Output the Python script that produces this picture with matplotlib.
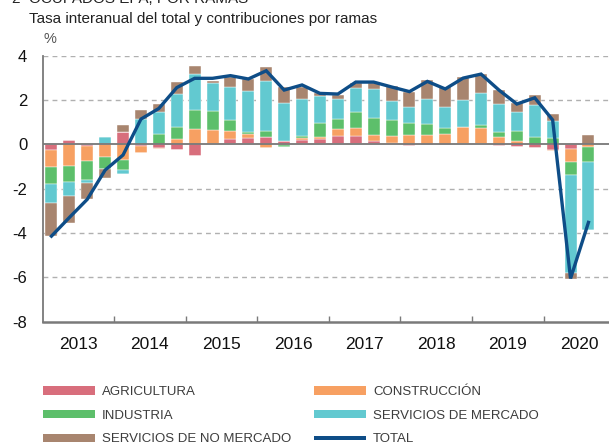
import matplotlib
matplotlib.use("Agg")
import matplotlib.pyplot as plt
import numpy as np
from matplotlib.patches import Rectangle

plt.rcParams["font.family"] = ["Liberation Sans", "DejaVu Sans"]

years = ["2013", "2014", "2015", "2016", "2017", "2018", "2019", "2020"]

agricultura = [-0.26, 0.18, -0.08, 0.0, 0.54, -0.08, -0.15, -0.27, -0.53, 0.0, 0.24, 0.29,
               0.35, 0.14, 0.20, 0.23, 0.39, 0.39, 0.17, 0.05, -0.06, -0.05, -0.03, 0.0,
               0.0, -0.06, -0.11, -0.15, -0.24, -0.23, 0.0]
construccion = [-0.77, -0.96, -0.69, -0.59, -0.71, -0.33, -0.05, 0.23, 0.70, 0.66, 0.35, 0.16,
                -0.15, -0.03, 0.10, 0.09, 0.29, 0.33, 0.27, 0.35, 0.41, 0.44, 0.45, 0.77,
                0.74, 0.33, 0.17, 0.02, -0.06, -0.57, -0.12]
industria = [-0.74, -0.74, -0.84, -0.54, -0.45, 0.0, 0.48, 0.56, 0.84, 0.84, 0.53, 0.13,
             0.24, -0.10, 0.09, 0.65, 0.48, 0.75, 0.77, 0.69, 0.54, 0.47, 0.29, 0.03,
             0.15, 0.21, 0.45, 0.30, 0.30, -0.60, -0.68]
serv_mercado = [-0.86, -0.62, -0.15, 0.35, -0.18, 1.14, 0.99, 1.46, 1.65, 1.26, 1.46, 1.82,
                2.27, 1.71, 1.64, 1.19, 0.87, 1.08, 1.29, 0.86, 0.72, 1.14, 0.96, 1.19,
                1.41, 1.28, 0.84, 1.44, 0.75, -4.40, -3.08]
serv_no_mercado = [-1.52, -1.22, -0.72, -0.39, 0.35, 0.41, 0.35, 0.55, 0.33, 0.12, 0.45, 0.55,
                   0.62, 0.74, 0.56, 0.15, 0.20, 0.24, 0.26, 0.68, 0.71, 0.84, 0.90, 1.04,
                   0.87, 0.63, 0.39, 0.48, 0.33, -0.26, 0.43]
total = [-4.14, -3.30, -2.48, -1.16, -0.48, 1.14, 1.62, 2.56, 2.98, 2.98, 3.10, 2.95,
         3.32, 2.45, 2.68, 2.30, 2.27, 2.81, 2.81, 2.59, 2.38, 2.84, 2.50, 2.99,
         3.17, 2.45, 1.82, 2.10, 1.10, -6.05, -3.52]

series = [
    ("AGRICULTURA", agricultura, "#d86e7c"),
    ("CONSTRUCCIÓN", construccion, "#f7a062"),
    ("INDUSTRIA", industria, "#5dbf6b"),
    ("SERVICIOS DE MERCADO", serv_mercado, "#62c9d0"),
    ("SERVICIOS DE NO MERCADO", serv_no_mercado, "#a8856f"),
]
total_color = "#0e4d87"

W, H = 609, 445
fig = plt.figure(figsize=(W / 100, H / 100), dpi=100)
left_px, right_px, top_px, bot_px = 42.5, 609, 55.7, 321.7
ax = fig.add_axes([left_px / W, 1 - bot_px / H, (right_px - left_px) / W, (bot_px - top_px) / H])

n = len(total)
x = np.arange(n)
pos_base = np.zeros(n)
neg_base = np.zeros(n)
for name, vals, col in series:
    v = np.array(vals)
    pos = np.where(v > 0, v, 0)
    neg = np.where(v < 0, v, 0)
    ax.bar(x, pos, bottom=pos_base, width=0.67, color=col, edgecolor="white", linewidth=0.3, zorder=2)
    ax.bar(x, neg, bottom=neg_base, width=0.67, color=col, edgecolor="white", linewidth=0.3, zorder=2)
    pos_base += pos
    neg_base += neg

ax.plot(x, total, color=total_color, lw=2.4, zorder=4, solid_joinstyle="miter")

ax.set_ylim(-8, 4)
ax.set_xlim(-0.5, (right_px - left_px) / 17.9 - 0.5)

for yv in [4, 2, -2, -4, -6]:
    ax.axhline(yv, color="#b0b0b0", lw=1.0, ls=(0, (3.5, 3)), zorder=1)
ax.axhline(0, color="#777777", lw=1.3, zorder=3)

for s in ["top", "right"]:
    ax.spines[s].set_visible(False)
ax.spines["left"].set_color("#7a7a7a")
ax.spines["left"].set_linewidth(1.3)
ax.spines["bottom"].set_color("#7a7a7a")
ax.spines["bottom"].set_linewidth(1.8)

ax.set_yticks([-8, -6, -4, -2, 0, 2, 4])
ax.set_yticklabels(["-8", "-6", "-4", "-2", "0", "2", "4"])
ax.tick_params(axis="y", length=0, pad=11, labelsize=12, labelcolor="#111111")

ax.set_xticks([3.5 + 4 * i for i in range(7)])
ax.set_xticklabels([])
ax.tick_params(axis="x", which="major", direction="in", length=4, width=1, color="#7a7a7a")
ax.set_xticks([1.5 + 4 * i for i in range(len(years))], minor=True)
ax.set_xticklabels(years, minor=True)
ax.tick_params(axis="x", which="minor", length=0, pad=11, labelsize=12.5, labelcolor="#111111")

fig.text(12 / W, 1 - 3 / H, "2  OCUPADOS EPA, POR RAMAS", fontsize=11, va="baseline", ha="left", color="#222222")
fig.text(29 / W, 1 - 23 / H, "Tasa interanual del total y contribuciones por ramas", fontsize=11,
         va="baseline", ha="left", color="#222222")
fig.text(43 / W, 1 - 43 / H, "%", fontsize=10.5, va="baseline", ha="left", color="#555555")

# legend
entries = [
    (series[0][0], series[0][2], 42.7, 390.5, "bar"),
    (series[1][0], series[1][2], 314, 390.5, "bar"),
    (series[2][0], series[2][2], 42.7, 414.3, "bar"),
    (series[3][0], series[3][2], 314, 414.3, "bar"),
    (series[4][0], series[4][2], 42.7, 438.0, "bar"),
    ("TOTAL", total_color, 314, 438.0, "line"),
]
for label, col, px, py, kind in entries:
    h = 8.3 if kind == "bar" else 4.0
    fig.add_artist(Rectangle((px / W, 1 - (py + h / 2) / H), 52 / W, h / H,
                             transform=fig.transFigure, color=col, lw=0))
    fig.text((px + 59) / W, 1 - py / H, label, fontsize=9.5,
             va="center_baseline", ha="left", color="#3c3c3c")

fig.savefig("out.png", dpi=100)
